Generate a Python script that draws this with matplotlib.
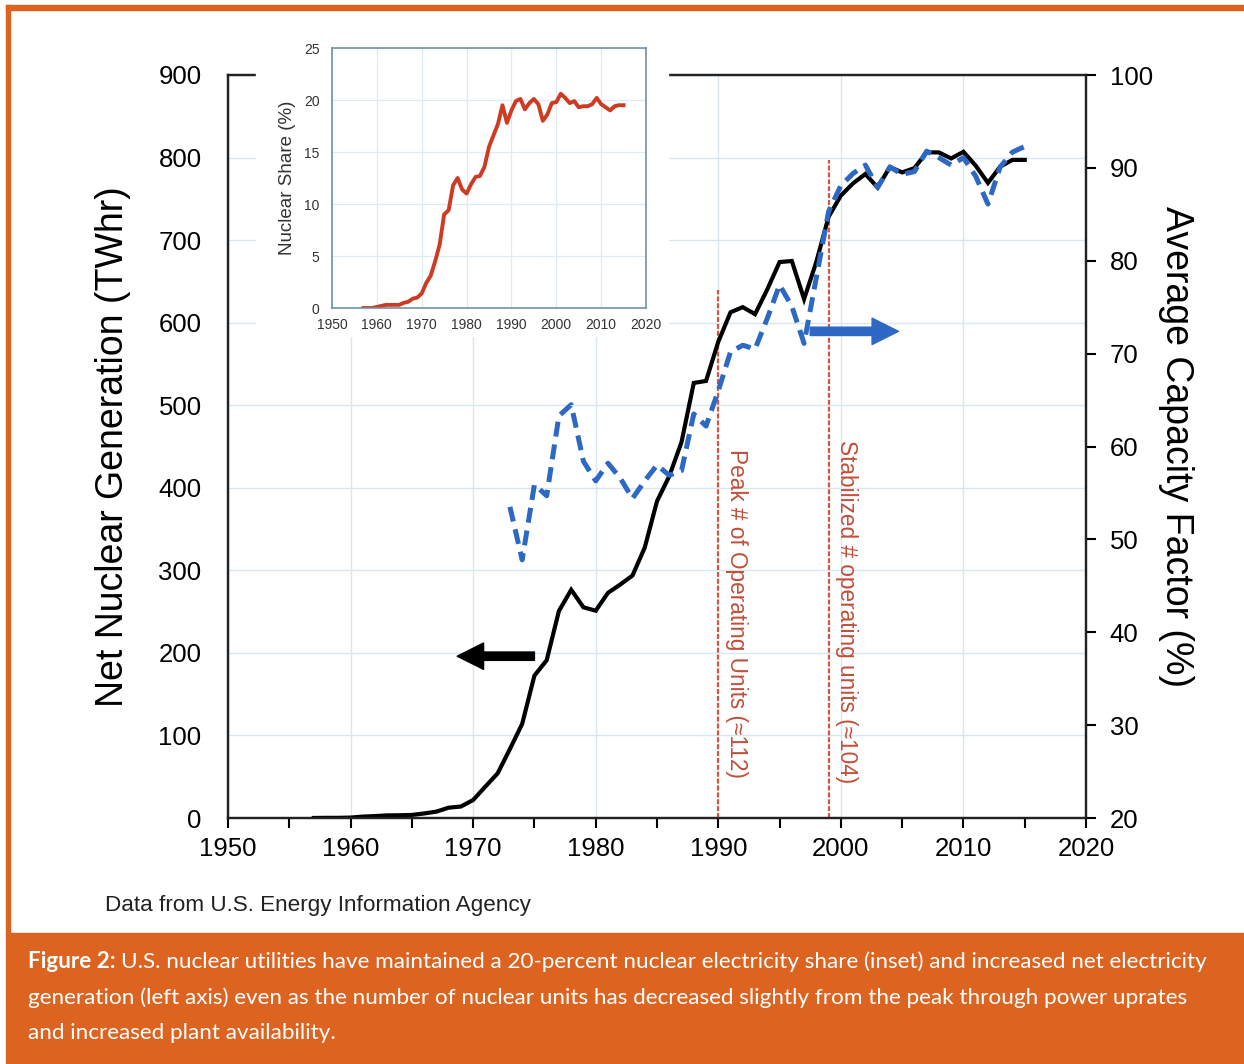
import numpy as np
import matplotlib
matplotlib.use('Agg')
import matplotlib.pyplot as plt
from matplotlib.patches import Rectangle

plt.rcParams['font.family'] = ['Liberation Sans', 'DejaVu Sans']

# =============================================================================
# Data (EIA)
# =============================================================================
gen_years = list(range(1957, 2016))
gen_twh = [0.01, 0.2, 0.2, 0.5, 1.7, 2.3, 3.2, 3.3, 3.7, 5.5, 7.7, 12.5, 13.9,
           21.8, 38.1, 54.1, 83.5, 114.0, 172.5, 191.1, 250.9, 276.4, 255.2,
           251.1, 272.7, 282.8, 293.7, 327.6, 383.7, 414.0, 455.3, 527.0,
           529.4, 576.9, 612.6, 618.8, 610.3, 640.4, 673.4, 674.7, 628.6,
           673.7, 728.3, 753.9, 768.8, 780.1, 763.7, 788.5, 782.0, 787.2,
           806.4, 806.2, 798.9, 807.0, 790.2, 769.3, 789.0, 797.2, 797.2]

cf_years = list(range(1973, 2016))
cf_pct = [53.5, 47.8, 55.9, 54.7, 63.3, 64.5, 58.4, 56.3, 58.2, 56.6, 54.4,
          56.3, 58.0, 56.9, 57.4, 63.5, 62.2, 66.0, 70.2, 70.9, 70.5, 73.8,
          77.4, 75.1, 71.1, 78.2, 85.3, 88.1, 89.4, 90.3, 87.9, 90.1, 89.3,
          89.6, 91.8, 91.1, 90.3, 91.1, 89.1, 86.1, 90.1, 91.7, 92.3]

share_years = list(range(1957, 2016))
share_pct = [0.0, 0.0, 0.0, 0.1, 0.2, 0.3, 0.3, 0.3, 0.3, 0.5, 0.6, 0.9, 1.0,
             1.4, 2.4, 3.1, 4.5, 6.1, 9.0, 9.4, 11.8, 12.5, 11.4, 11.0, 11.9,
             12.6, 12.7, 13.6, 15.5, 16.6, 17.7, 19.5, 17.8, 19.0, 19.9, 20.1,
             19.1, 19.7, 20.1, 19.6, 18.0, 18.6, 19.7, 19.8, 20.6, 20.2, 19.7,
             19.9, 19.3, 19.4, 19.4, 19.6, 20.2, 19.6, 19.3, 19.0, 19.4, 19.5,
             19.5]

# Reference lines: (year, top of line in TWh, label)
MARKERS = [
    (1990, 639, 'Peak # of Operating Units (\u2248112)'),
    (1999, 797, 'Stabilized # operating units (\u2248104)'),
]

ORANGE = '#dc6420'
BLUE = '#2d68c4'
RED_LINE = '#d0583e'
GRID = '#d6e7f1'

# =============================================================================
# Figure + frame
# =============================================================================
fig = plt.figure(figsize=(12.44, 10.64), dpi=100)
W, H = 1244, 1064

def px(x0, y0, x1, y1):
    """pixel box (top-left origin) -> figure rect"""
    return [x0 / W, 1 - y1 / H, (x1 - x0) / W, (y1 - y0) / H]

for box in [px(6, 5, W, 10), px(6, 5, 10, 933), px(6, 933, W, H)]:
    fig.patches.append(Rectangle((box[0], box[1]), box[2], box[3],
                                 transform=fig.transFigure, color=ORANGE,
                                 zorder=0))

# =============================================================================
# Main axes
# =============================================================================
ax = fig.add_axes(px(228, 75, 1086, 818))
ax2 = ax.twinx()

ax.plot(gen_years, gen_twh, color='black', lw=3.0, zorder=5,
        solid_joinstyle='miter')
ax2.plot(cf_years, cf_pct, color=BLUE, lw=3.6, dashes=(3, 1.6), zorder=5)

ax.set_xlim(1950, 2020)
ax.set_ylim(0, 900)
ax2.set_ylim(20, 100)
ax.set_xticks(range(1950, 2021, 10))
ax.set_xticks(range(1955, 2020, 10), minor=True)
ax.set_yticks(range(0, 901, 100))
ax2.set_yticks(range(20, 101, 10))
ax.grid(True, color=GRID, lw=1.0)
ax.set_axisbelow(True)

ax.tick_params(axis='x', which='both', direction='out', length=7, width=1.5,
               labelsize=18.5, pad=7)
ax.tick_params(axis='y', length=0, labelsize=18.5, pad=19)
ax2.tick_params(axis='y', direction='out', length=7, width=1.5,
                labelsize=18.5, pad=10)
for a in (ax, ax2):
    for s in a.spines.values():
        s.set_linewidth(1.6)
        s.set_color('#222222')

ax.set_ylabel('Net Nuclear Generation (TWhr)', fontsize=27, labelpad=20)
ax2.set_ylabel('Average Capacity Factor (%)', fontsize=27, rotation=270,
               labelpad=30)

label_top = [447, 458]
for (yr, top, label), ytop in zip(MARKERS, label_top):
    ax.plot([yr, yr], [0, top], color=RED_LINE, lw=1.6, dashes=(2.2, 0.9),
            zorder=3)
    ax.text(yr + 1.5, ytop, label, rotation=270, ha='center', va='top',
            fontsize=16.3, color='#c24e38', zorder=4)

# direction arrows
ax.annotate('', xy=(1968.7, 196), xytext=(1975.0, 196),
            arrowprops=dict(arrowstyle='simple,head_length=0.95,head_width=0.95,tail_width=0.3',
                            color='black', mutation_scale=20,
                            shrinkA=0, shrinkB=0), zorder=6)
ax2.annotate('', xy=(2004.7, 72.4), xytext=(1997.5, 72.4),
             arrowprops=dict(arrowstyle='simple,head_length=0.95,head_width=0.95,tail_width=0.3',
                             color=BLUE, mutation_scale=20,
                             shrinkA=0, shrinkB=0), zorder=6)

# =============================================================================
# Inset: nuclear share
# =============================================================================
cover = px(256, 28, 668, 336)
fig.patches.append(Rectangle((cover[0], cover[1]), cover[2], cover[3],
                             transform=fig.transFigure, color='white',
                             zorder=10))
axi = fig.add_axes(px(332, 48, 646, 308), zorder=11)
axi.plot(share_years, share_pct, color='#cf3b22', lw=2.8)
axi.set_xlim(1950, 2020)
axi.set_ylim(0, 25)
axi.set_xticks(range(1950, 2021, 10))
axi.set_yticks(range(0, 26, 5))
axi.grid(True, color='#dcebf5', lw=0.9)
axi.set_axisbelow(True)
axi.tick_params(length=0, labelsize=10, colors='#333333')
axi.tick_params(axis='y', pad=9)
axi.tick_params(axis='x', pad=7)
for s in axi.spines.values():
    s.set_color('#6f93a6')
    s.set_linewidth(1.2)
axi.set_ylabel('Nuclear Share (%)', fontsize=13.5, color='#333333', labelpad=6)

# =============================================================================
# Source + caption
# =============================================================================
fig.text(105 / W, 1 - 905 / H, 'Data from U.S. Energy Information Agency',
         fontsize=16.2, color='#222222', va='center', ha='left')

cap_font = ['Lato', 'DejaVu Sans']
cap_size = 16.2
lines = [
    'U.S. nuclear utilities have maintained a 20-percent nuclear electricity share (inset) and increased net electricity',
    'generation (left axis) even as the number of nuclear units has decreased slightly from the peak through power uprates',
    'and increased plant availability.',
]
t = fig.text(28 / W, 1 - 962 / H, 'Figure 2:', fontsize=cap_size, color='white',
             fontweight='bold', family=cap_font, va='center', ha='left')
fig.canvas.draw()
bb = t.get_window_extent()
fig.text(bb.x1 / W + 5 / W, 1 - 962 / H, lines[0], fontsize=cap_size,
         color='white', family=cap_font, va='center', ha='left')
fig.text(28 / W, 1 - 998 / H, lines[1], fontsize=cap_size, color='white',
         family=cap_font, va='center', ha='left')
fig.text(28 / W, 1 - 1033 / H, lines[2], fontsize=cap_size, color='white',
         family=cap_font, va='center', ha='left')

fig.savefig('out.png', dpi=100)
